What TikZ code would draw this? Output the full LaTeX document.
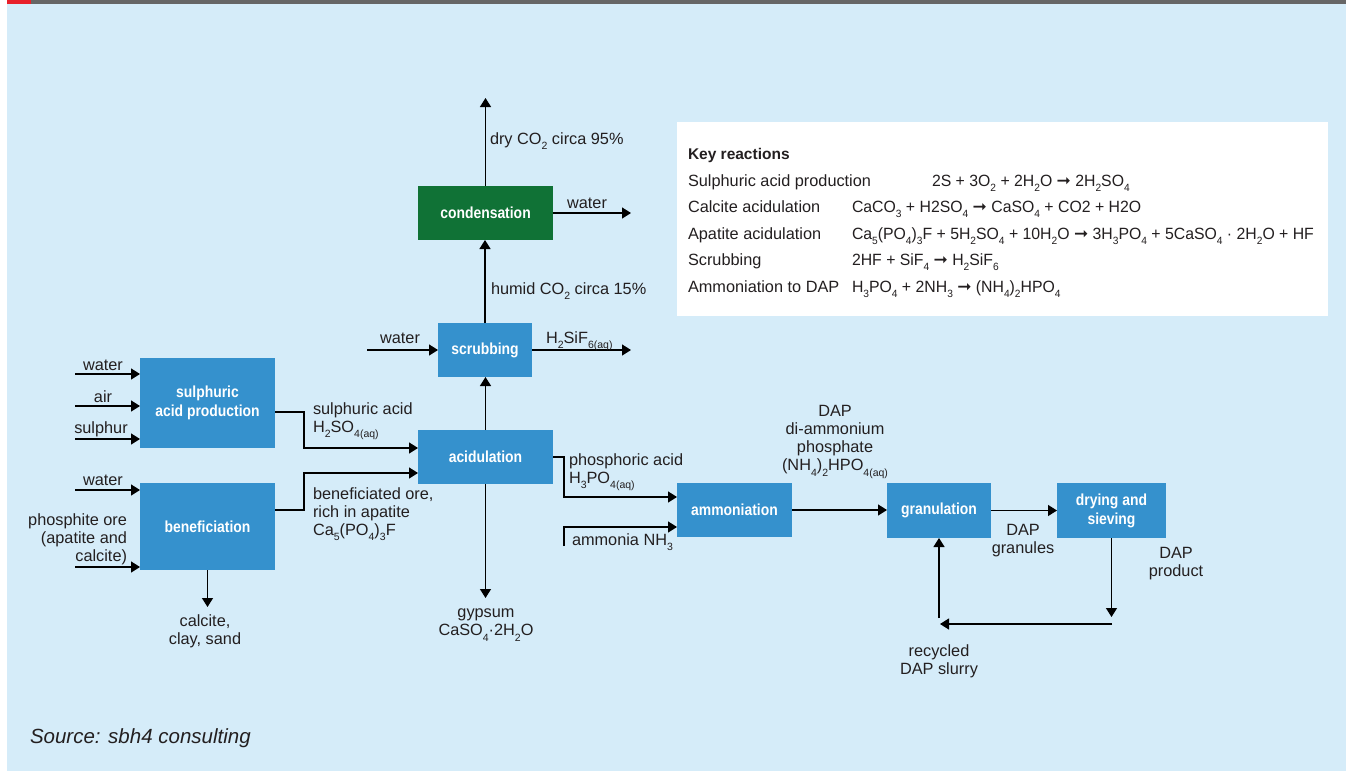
\documentclass[tikz,border=0pt]{standalone}
\usepackage{fontspec}
\setmainfont{Liberation Sans}
\newfontfamily\boxfont{Liberation Sans}[FakeStretch=0.87]
\newfontfamily\eqfont{Liberation Sans}[FakeStretch=0.97]
\newfontfamily\arrowfont{DejaVu Sans}
\usepackage{tikz}
\usetikzlibrary{calc}
\usetikzlibrary{positioning}
\usetikzlibrary{arrows.meta}

\definecolor{bgblue}{HTML}{D5ECF9}
\definecolor{bargray}{HTML}{666666}
\definecolor{barred}{HTML}{E8202A}
\definecolor{unitblue}{HTML}{3591CD}
\definecolor{unitgreen}{HTML}{107236}
\definecolor{txt}{HTML}{231F20}

\newcommand{\chsub}[1]{\raisebox{-0.33em}{\fontsize{10.5}{10.5}\selectfont #1}}
\newcommand{\yields}{{\arrowfont\fontsize{17}{17}\selectfont ➞}}

\begin{document}
\begin{tikzpicture}[x=1pt,y=-1pt,node distance=0pt,outer sep=0pt,inner sep=0pt]

	\tikzstyle{every node}=[font=\fontsize{16.3}{18}\selectfont,text=txt]

	\tikzset{unit/.style={align=center,shape=rectangle,fill=unitblue,text=white,
		font=\boxfont\bfseries\fontsize{16}{19}\selectfont}}

	\tikzset{flow/.style={draw=black,line width=1.3pt,
		-{Triangle[length=9pt,width=11pt]}}}

	\tikzset{equation/.style={anchor=base west,font=\eqfont\fontsize{16.3}{18}\selectfont}}

	% Page background and top bar.
	\fill [white] (0,0) rectangle (1346,771);
	\fill [bgblue] (7,4) rectangle (1346,771);
	\fill [bargray] (7,0) rectangle (1346,4);
	\fill [barred] (7,0) rectangle (31,4);
	\useasboundingbox (0,0) rectangle (1346,771);

	% Process units.
	\node (sulph) at (207.5,403) [unit,minimum width=135,minimum height=90] {sulphuric\\acid production};
	\node (benef) at (207.5,526.5) [unit,minimum width=135,minimum height=87] {beneficiation};
	\node (acid) at (485.5,457) [unit,minimum width=135,minimum height=54] {acidulation};
	\node (scrub) at (485,350) [unit,minimum width=94,minimum height=54] {scrubbing};
	\node (cond) at (485.5,213) [unit,fill=unitgreen,minimum width=135,minimum height=54] {condensation};
	\node (ammon) at (734.5,510) [unit,minimum width=115,minimum height=54] {ammoniation};
	\node (gran) at (939,510.5) [unit,minimum width=104,minimum height=55] {granulation};
	\node (dry) at (1111.5,510.5) [unit,minimum width=109,minimum height=55] {drying and\\sieving};

	% Feeds on the left.
	\coordinate (inwater) at (75,374);
	\coordinate (inair) at (75,406);
	\coordinate (insulphur) at (75,439);
	\coordinate (inwaterb) at (75,490);
	\coordinate (inore) at (75,567);
	\draw [flow] (inwater) -- (inwater -| sulph.west);
	\draw [flow] (inair) -- (inair -| sulph.west);
	\draw [flow] (insulphur) -- (insulphur -| sulph.west);
	\draw [flow] (inwaterb) -- (inwaterb -| benef.west);
	\draw [flow] (inore) -- (inore -| benef.west);
	\node (lwater) at (103,370) [anchor=base] {water};
	\node (lair) at (103,402) [anchor=base] {air};
	\node (lsulphur) at (101,433) [anchor=base] {sulphur};
	\node (lwaterb) at (103,485) [anchor=base] {water};
	\node (lore) at (127,539) [anchor=east,align=right] {phosphite ore\\(apatite and\\calcite)};

	% Beneficiation waste.
	\coordinate (calciteout) at (207.5,607);
	\draw [flow] (benef.south) -- (calciteout);
	\node (lcalcite) at (205,631) [align=center] {calcite,\\clay, sand};

	% Into acidulation.
	\draw [flow] ([yshift=-9pt]sulph.east) -- ++(29,0) |- ([yshift=9pt]acid.west);
	\draw [flow] ([yshift=16.5pt]benef.east) -- ++(29,0) |- ([yshift=-16pt]acid.west);
	\node (lsulphacid) at (313,421) [anchor=west,align=left] {sulphuric acid\\H\chsub{2}SO\chsub{4(aq)}};
	\node (lbenore) at (313,514) [anchor=west,align=left] {beneficiated ore,\\rich in apatite\\Ca\chsub{5}(PO\chsub{4})\chsub{3}F};

	% Gypsum out.
	\coordinate (gypsumout) at (485.5,598);
	\draw [flow] (acid.south) -- (gypsumout);
	\node (lgypsum) at (486,625) [align=center] {gypsum\\CaSO\chsub{4}·2H\chsub{2}O};

	% Gas line: scrubbing and condensation.
	\draw [flow] (acid.north) -- (acid.north |- scrub.south);
	\draw [flow] (scrub.north) -- (scrub.north |- cond.south);
	\coordinate (scrubwater) at (367,350);
	\coordinate (hsifout) at (631,350);
	\draw [flow] (scrubwater) -- (scrub.west);
	\draw [flow] (scrub.east) -- (hsifout);
	\node (lwaterscrub) at (400,343) [anchor=base] {water};
	\node (lhsif) at (546,343) [anchor=base west] {H\chsub{2}SiF\chsub{6(aq)}};
	\node (lco2humid) at (491,294) [anchor=base west] {humid CO\chsub{2} circa 15\%};
	\coordinate (co2out) at (485.5,98);
	\coordinate (condwater) at (631,213);
	\draw [flow] (cond.north) -- (co2out);
	\draw [flow] (cond.east) -- (condwater);
	\node (lco2dry) at (490,144) [anchor=base west] {dry CO\chsub{2} circa 95\%};
	\node (lwatercond) at (587,208) [anchor=base] {water};

	% Phosphoric acid and ammonia to ammoniation.
	\draw [flow] (acid.east) -- ++(11,0) |- ([yshift=13pt]ammon.west);
	\coordinate (nh3in) at (564,546);
	\draw [flow] (nh3in) |- ([yshift=-17pt]ammon.west);
	\node (lphosacid) at (569,472) [anchor=west,align=left] {phosphoric acid\\H\chsub{3}PO\chsub{4(aq)}};
	\node (lnh3) at (572,545) [anchor=base west] {ammonia NH\chsub{3}};

	% DAP line.
	\draw [flow] (ammon.east) -- (ammon.east -| gran.west);
	\draw [flow] (gran.east) -- (dry.west);
	\node (ldap) at (835,442) [align=center] {DAP\\di-ammonium\\phosphate\\(NH\chsub{4})\chsub{2}HPO\chsub{4(aq)}};
	\node (lgranules) at (1023,540.5) [align=center] {DAP\\granules};
	\node (lproduct) at (1176,564) [align=center] {DAP\\product};

	% Recycle loop.
	\coordinate (dryout) at (1112,617);
	\coordinate (recstart) at (1112,624);
	\coordinate (recend) at (940,624);
	\coordinate (recup) at (939,618);
	\draw [flow] (dry.south) -- (dry.south |- dryout);
	\draw [flow] (recstart) -- (recend);
	\draw [flow] (recup) -- (gran.south);
	\node (lrecycle) at (939,661.5) [align=center] {recycled\\DAP slurry};

	% Key reactions panel.
	\node (keybox) at (677,122) [anchor=north west,fill=white,minimum width=651,minimum height=194] {};
	\node (keytitle) at (688,159) [anchor=base west,font=\bfseries\fontsize{15.5}{18}\selectfont] {Key reactions};
	\node (rsulph) at (688,186) [anchor=base west] {Sulphuric acid production};
	\node (esulph) at (932,186) [equation] {2S + 3O\chsub{2} + 2H\chsub{2}O \yields{} 2H\chsub{2}SO\chsub{4}};
	\node (rcalc) at (688,212.5) [anchor=base west] {Calcite acidulation};
	\node (ecalc) at (852,212.5) [equation] {CaCO\chsub{3} + H2SO\chsub{4} \yields{} CaSO\chsub{4} + CO2 + H2O};
	\node (rapat) at (688,239) [anchor=base west] {Apatite acidulation};
	\node (eapat) at (852,239) [equation] {Ca\chsub{5}(PO\chsub{4})\chsub{3}F + 5H\chsub{2}SO\chsub{4} + 10H\chsub{2}O \yields{} 3H\chsub{3}PO\chsub{4} + 5CaSO\chsub{4} · 2H\chsub{2}O + HF};
	\node (rscrub) at (688,265.5) [anchor=base west] {Scrubbing};
	\node (escrub) at (852,265.5) [equation] {2HF + SiF\chsub{4} \yields{} H\chsub{2}SiF\chsub{6}};
	\node (rammon) at (688,292) [anchor=base west] {Ammoniation to DAP};
	\node (eammon) at (852,292) [equation] {H\chsub{3}PO\chsub{4} + 2NH\chsub{3} \yields{} (NH\chsub{4})\chsub{2}HPO\chsub{4}};

	% Source line.
	\node (source) at (30,738) [anchor=west,font=\itshape\fontsize{20.5}{24}\selectfont] {Source: sbh4 consulting};
\end{tikzpicture}
\end{document}
